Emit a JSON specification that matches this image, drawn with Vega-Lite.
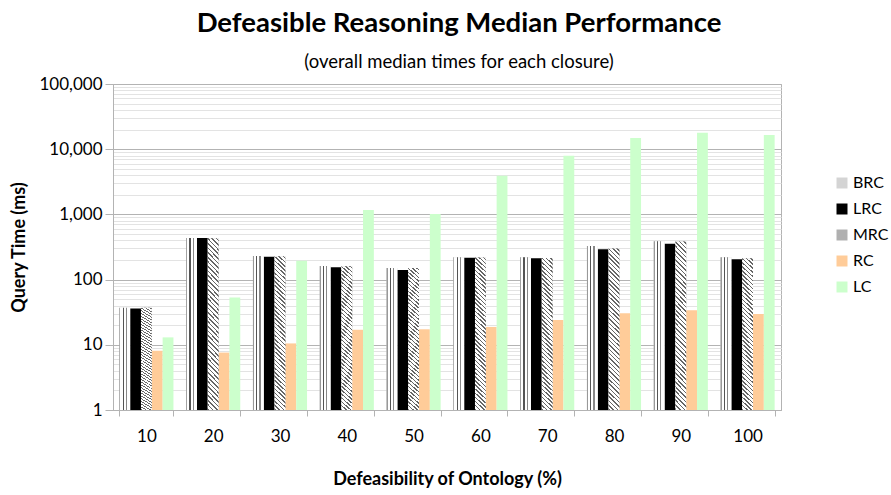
{
  "$schema": "https://vega.github.io/schema/vega-lite/v6.json",
  "width": 668,
  "height": 326,
  "autosize": {"type": "none"},
  "padding": {"left": 113, "top": 84, "right": 110, "bottom": 85},
  "background": "white",
  "config": {"font": "Lato", "view": {"stroke": "#b3b3b3", "strokeWidth": 1}},
  "title": {
    "text": "Defeasible Reasoning Median Performance",
    "subtitle": "(overall median times for each closure)",
    "font": "Lato",
    "subtitleFont": "Lato",
    "fontSize": 27.5,
    "fontWeight": "bold",
    "color": "#000000",
    "subtitleFontSize": 18.5,
    "subtitleColor": "#000000",
    "anchor": "middle",
    "dx": 12,
    "offset": 4,
    "subtitlePadding": 15
  },
  "data": {
    "values": [
      {"defeasibility": 10, "closure": "BRC", "time": 37},
      {"defeasibility": 10, "closure": "LRC", "time": 36},
      {"defeasibility": 10, "closure": "MRC", "time": 37},
      {"defeasibility": 10, "closure": "RC", "time": 8.1},
      {"defeasibility": 10, "closure": "LC", "time": 13},
      {"defeasibility": 20, "closure": "BRC", "time": 435},
      {"defeasibility": 20, "closure": "LRC", "time": 435},
      {"defeasibility": 20, "closure": "MRC", "time": 430},
      {"defeasibility": 20, "closure": "RC", "time": 7.6},
      {"defeasibility": 20, "closure": "LC", "time": 53},
      {"defeasibility": 30, "closure": "BRC", "time": 230},
      {"defeasibility": 30, "closure": "LRC", "time": 225},
      {"defeasibility": 30, "closure": "MRC", "time": 228},
      {"defeasibility": 30, "closure": "RC", "time": 10.5},
      {"defeasibility": 30, "closure": "LC", "time": 195},
      {"defeasibility": 40, "closure": "BRC", "time": 162},
      {"defeasibility": 40, "closure": "LRC", "time": 155},
      {"defeasibility": 40, "closure": "MRC", "time": 160},
      {"defeasibility": 40, "closure": "RC", "time": 17},
      {"defeasibility": 40, "closure": "LC", "time": 1170},
      {"defeasibility": 50, "closure": "BRC", "time": 150},
      {"defeasibility": 50, "closure": "LRC", "time": 140},
      {"defeasibility": 50, "closure": "MRC", "time": 150},
      {"defeasibility": 50, "closure": "RC", "time": 17.3},
      {"defeasibility": 50, "closure": "LC", "time": 1015},
      {"defeasibility": 60, "closure": "BRC", "time": 220},
      {"defeasibility": 60, "closure": "LRC", "time": 217},
      {"defeasibility": 60, "closure": "MRC", "time": 218},
      {"defeasibility": 60, "closure": "RC", "time": 18.8},
      {"defeasibility": 60, "closure": "LC", "time": 3900},
      {"defeasibility": 70, "closure": "BRC", "time": 220},
      {"defeasibility": 70, "closure": "LRC", "time": 212},
      {"defeasibility": 70, "closure": "MRC", "time": 215},
      {"defeasibility": 70, "closure": "RC", "time": 24},
      {"defeasibility": 70, "closure": "LC", "time": 7900},
      {"defeasibility": 80, "closure": "BRC", "time": 327},
      {"defeasibility": 80, "closure": "LRC", "time": 292},
      {"defeasibility": 80, "closure": "MRC", "time": 300},
      {"defeasibility": 80, "closure": "RC", "time": 30.5},
      {"defeasibility": 80, "closure": "LC", "time": 14800},
      {"defeasibility": 90, "closure": "BRC", "time": 387},
      {"defeasibility": 90, "closure": "LRC", "time": 356},
      {"defeasibility": 90, "closure": "MRC", "time": 385},
      {"defeasibility": 90, "closure": "RC", "time": 34},
      {"defeasibility": 90, "closure": "LC", "time": 17900},
      {"defeasibility": 100, "closure": "BRC", "time": 220},
      {"defeasibility": 100, "closure": "LRC", "time": 205},
      {"defeasibility": 100, "closure": "MRC", "time": 212},
      {"defeasibility": 100, "closure": "RC", "time": 29.7},
      {"defeasibility": 100, "closure": "LC", "time": 16500}
    ]
  },
  "encoding": {
    "x": {
      "field": "defeasibility",
      "type": "ordinal",
      "scale": {"paddingInner": 0.19, "paddingOuter": 0.095},
      "axis": {
        "title": "Defeasibility of Ontology (%)",
        "titleFont": "Lato",
        "titleFontSize": 18,
        "titleFontWeight": "bold",
        "titleColor": "#000000",
        "titlePadding": 26,
        "labelAngle": 0,
        "labelFont": "Lato",
        "labelFontSize": 17,
        "labelColor": "#000000",
        "labelPadding": 12,
        "domainColor": "#b3b3b3",
        "tickColor": "#b3b3b3",
        "tickSize": 6,
        "tickBand": "extent",
        "grid": false
      }
    },
    "xOffset": {
      "field": "closure",
      "type": "nominal",
      "sort": ["BRC", "LRC", "MRC", "RC", "LC"],
      "scale": {"domain": ["BRC", "LRC", "MRC", "RC", "LC"], "paddingInner": 0, "paddingOuter": 0}
    },
    "y": {
      "field": "time",
      "type": "quantitative",
      "stack": null,
      "scale": {"type": "log", "domain": [1, 100000]},
      "axis": {
        "title": "Query Time (ms)",
        "titleFont": "Lato",
        "titleFontSize": 18,
        "titleFontWeight": "bold",
        "titleColor": "#000000",
        "titlePadding": 10,
        "values": [1,2,3,4,5,6,7,8,9,10,20,30,40,50,60,70,80,90,100,200,300,400,500,600,700,800,900,1000,2000,3000,4000,5000,6000,7000,8000,9000,10000,20000,30000,40000,50000,60000,70000,80000,90000,100000],
        "labelExpr": "indexof([1,10,100,1000,10000,100000], datum.value) >= 0 ? format(datum.value, ',') : ''",
        "labelFont": "Lato",
        "labelFontSize": 17,
        "labelColor": "#000000",
        "labelPadding": 3,
        "labelOverlap": false,
        "domainColor": "#b3b3b3",
        "tickSize": 8,
        "tickColor": {"condition": {"test": "indexof([1,10,100,1000,10000,100000], datum.value) >= 0", "value": "#b3b3b3"}, "value": "transparent"},
        "grid": true,
        "gridColor": {"condition": {"test": "indexof([1,10,100,1000,10000,100000], datum.value) >= 0", "value": "#b3b3b3"}, "value": "#e3e3e3"},
        "gridOpacity": 1
      }
    },
    "y2": {"datum": 1}
  },
  "layer": [
    {
      "mark": {"type": "bar", "strokeWidth": 0},
      "encoding": {
        "color": {
          "field": "closure",
          "type": "nominal",
          "sort": ["BRC", "LRC", "MRC", "RC", "LC"],
          "scale": {
            "domain": ["BRC", "LRC", "MRC", "RC", "LC"],
            "range": ["#d4d4d4", "#000000", "#b0b0b0", "#FFCC99", "#CCFFCC"]
          },
          "legend": {
            "orient": "none",
            "legendX": 721,
            "legendY": 91,
            "title": null,
            "labelFont": "Lato",
            "labelFontSize": 16,
            "labelColor": "#000000",
            "symbolType": "square",
            "symbolSize": 121,
            "symbolStrokeWidth": 0,
            "symbolOpacity": 1,
            "rowPadding": 10,
            "labelOffset": 3
          }
        }
      }
    },
    {
      "transform": [{"filter": "datum.closure == 'BRC'"}],
      "mark": {
        "type": "bar",
        "strokeWidth": 0,
        "color": {"gradient": "linear", "x1": 0, "y1": 0, "x2": 1, "y2": 0, "stops": [
          {"offset": 0, "color": "#999999"}, {"offset": 0.1, "color": "#999999"},
          {"offset": 0.1, "color": "#ffffff"}, {"offset": 0.3, "color": "#ffffff"},
          {"offset": 0.3, "color": "#555555"}, {"offset": 0.42, "color": "#555555"},
          {"offset": 0.42, "color": "#ffffff"}, {"offset": 0.6, "color": "#ffffff"},
          {"offset": 0.6, "color": "#888888"}, {"offset": 0.7, "color": "#888888"},
          {"offset": 0.7, "color": "#ffffff"}, {"offset": 1, "color": "#ffffff"}
        ]}
      },
      "encoding": {}
    },
    {
      "transform": [{"filter": "datum.closure == 'MRC'"}],
      "mark": {
        "type": "bar",
        "strokeWidth": 0,
        "color": {"gradient": "linear", "x1": 0, "y1": 1, "x2": 0.071, "y2": -0.07, "stops": [
            {"offset": 0, "color": "#666"}, {"offset": 0.009, "color": "#666"}, {"offset": 0.009, "color": "#fff"}, {"offset": 0.025, "color": "#fff"},
            {"offset": 0.025, "color": "#666"}, {"offset": 0.034, "color": "#666"}, {"offset": 0.034, "color": "#fff"}, {"offset": 0.05, "color": "#fff"},
            {"offset": 0.05, "color": "#666"}, {"offset": 0.059, "color": "#666"}, {"offset": 0.059, "color": "#fff"}, {"offset": 0.075, "color": "#fff"},
            {"offset": 0.075, "color": "#666"}, {"offset": 0.084, "color": "#666"}, {"offset": 0.084, "color": "#fff"}, {"offset": 0.1, "color": "#fff"},
            {"offset": 0.1, "color": "#666"}, {"offset": 0.109, "color": "#666"}, {"offset": 0.109, "color": "#fff"}, {"offset": 0.125, "color": "#fff"},
            {"offset": 0.125, "color": "#666"}, {"offset": 0.134, "color": "#666"}, {"offset": 0.134, "color": "#fff"}, {"offset": 0.15, "color": "#fff"},
            {"offset": 0.15, "color": "#666"}, {"offset": 0.159, "color": "#666"}, {"offset": 0.159, "color": "#fff"}, {"offset": 0.175, "color": "#fff"},
            {"offset": 0.175, "color": "#666"}, {"offset": 0.184, "color": "#666"}, {"offset": 0.184, "color": "#fff"}, {"offset": 0.2, "color": "#fff"},
            {"offset": 0.2, "color": "#666"}, {"offset": 0.209, "color": "#666"}, {"offset": 0.209, "color": "#fff"}, {"offset": 0.225, "color": "#fff"},
            {"offset": 0.225, "color": "#666"}, {"offset": 0.234, "color": "#666"}, {"offset": 0.234, "color": "#fff"}, {"offset": 0.25, "color": "#fff"},
            {"offset": 0.25, "color": "#666"}, {"offset": 0.259, "color": "#666"}, {"offset": 0.259, "color": "#fff"}, {"offset": 0.275, "color": "#fff"},
            {"offset": 0.275, "color": "#666"}, {"offset": 0.284, "color": "#666"}, {"offset": 0.284, "color": "#fff"}, {"offset": 0.3, "color": "#fff"},
            {"offset": 0.3, "color": "#666"}, {"offset": 0.309, "color": "#666"}, {"offset": 0.309, "color": "#fff"}, {"offset": 0.325, "color": "#fff"},
            {"offset": 0.325, "color": "#666"}, {"offset": 0.334, "color": "#666"}, {"offset": 0.334, "color": "#fff"}, {"offset": 0.35, "color": "#fff"},
            {"offset": 0.35, "color": "#666"}, {"offset": 0.359, "color": "#666"}, {"offset": 0.359, "color": "#fff"}, {"offset": 0.375, "color": "#fff"},
            {"offset": 0.375, "color": "#666"}, {"offset": 0.384, "color": "#666"}, {"offset": 0.384, "color": "#fff"}, {"offset": 0.4, "color": "#fff"},
            {"offset": 0.4, "color": "#666"}, {"offset": 0.409, "color": "#666"}, {"offset": 0.409, "color": "#fff"}, {"offset": 0.425, "color": "#fff"},
            {"offset": 0.425, "color": "#666"}, {"offset": 0.434, "color": "#666"}, {"offset": 0.434, "color": "#fff"}, {"offset": 0.45, "color": "#fff"},
            {"offset": 0.45, "color": "#666"}, {"offset": 0.459, "color": "#666"}, {"offset": 0.459, "color": "#fff"}, {"offset": 0.475, "color": "#fff"},
            {"offset": 0.475, "color": "#666"}, {"offset": 0.484, "color": "#666"}, {"offset": 0.484, "color": "#fff"}, {"offset": 0.5, "color": "#fff"},
            {"offset": 0.5, "color": "#666"}, {"offset": 0.509, "color": "#666"}, {"offset": 0.509, "color": "#fff"}, {"offset": 0.525, "color": "#fff"},
            {"offset": 0.525, "color": "#666"}, {"offset": 0.534, "color": "#666"}, {"offset": 0.534, "color": "#fff"}, {"offset": 0.55, "color": "#fff"},
            {"offset": 0.55, "color": "#666"}, {"offset": 0.559, "color": "#666"}, {"offset": 0.559, "color": "#fff"}, {"offset": 0.575, "color": "#fff"},
            {"offset": 0.575, "color": "#666"}, {"offset": 0.584, "color": "#666"}, {"offset": 0.584, "color": "#fff"}, {"offset": 0.6, "color": "#fff"},
            {"offset": 0.6, "color": "#666"}, {"offset": 0.609, "color": "#666"}, {"offset": 0.609, "color": "#fff"}, {"offset": 0.625, "color": "#fff"},
            {"offset": 0.625, "color": "#666"}, {"offset": 0.634, "color": "#666"}, {"offset": 0.634, "color": "#fff"}, {"offset": 0.65, "color": "#fff"},
            {"offset": 0.65, "color": "#666"}, {"offset": 0.659, "color": "#666"}, {"offset": 0.659, "color": "#fff"}, {"offset": 0.675, "color": "#fff"},
            {"offset": 0.675, "color": "#666"}, {"offset": 0.684, "color": "#666"}, {"offset": 0.684, "color": "#fff"}, {"offset": 0.7, "color": "#fff"},
            {"offset": 0.7, "color": "#666"}, {"offset": 0.709, "color": "#666"}, {"offset": 0.709, "color": "#fff"}, {"offset": 0.725, "color": "#fff"},
            {"offset": 0.725, "color": "#666"}, {"offset": 0.734, "color": "#666"}, {"offset": 0.734, "color": "#fff"}, {"offset": 0.75, "color": "#fff"},
            {"offset": 0.75, "color": "#666"}, {"offset": 0.759, "color": "#666"}, {"offset": 0.759, "color": "#fff"}, {"offset": 0.775, "color": "#fff"},
            {"offset": 0.775, "color": "#666"}, {"offset": 0.784, "color": "#666"}, {"offset": 0.784, "color": "#fff"}, {"offset": 0.8, "color": "#fff"},
            {"offset": 0.8, "color": "#666"}, {"offset": 0.809, "color": "#666"}, {"offset": 0.809, "color": "#fff"}, {"offset": 0.825, "color": "#fff"},
            {"offset": 0.825, "color": "#666"}, {"offset": 0.834, "color": "#666"}, {"offset": 0.834, "color": "#fff"}, {"offset": 0.85, "color": "#fff"},
            {"offset": 0.85, "color": "#666"}, {"offset": 0.859, "color": "#666"}, {"offset": 0.859, "color": "#fff"}, {"offset": 0.875, "color": "#fff"},
            {"offset": 0.875, "color": "#666"}, {"offset": 0.884, "color": "#666"}, {"offset": 0.884, "color": "#fff"}, {"offset": 0.9, "color": "#fff"},
            {"offset": 0.9, "color": "#666"}, {"offset": 0.909, "color": "#666"}, {"offset": 0.909, "color": "#fff"}, {"offset": 0.925, "color": "#fff"},
            {"offset": 0.925, "color": "#666"}, {"offset": 0.934, "color": "#666"}, {"offset": 0.934, "color": "#fff"}, {"offset": 0.95, "color": "#fff"},
            {"offset": 0.95, "color": "#666"}, {"offset": 0.959, "color": "#666"}, {"offset": 0.959, "color": "#fff"}, {"offset": 0.975, "color": "#fff"},
            {"offset": 0.975, "color": "#666"}, {"offset": 0.984, "color": "#666"}, {"offset": 0.984, "color": "#fff"}, {"offset": 1, "color": "#fff"}
        ]}
      },
      "encoding": {}
    }
  ]
}
